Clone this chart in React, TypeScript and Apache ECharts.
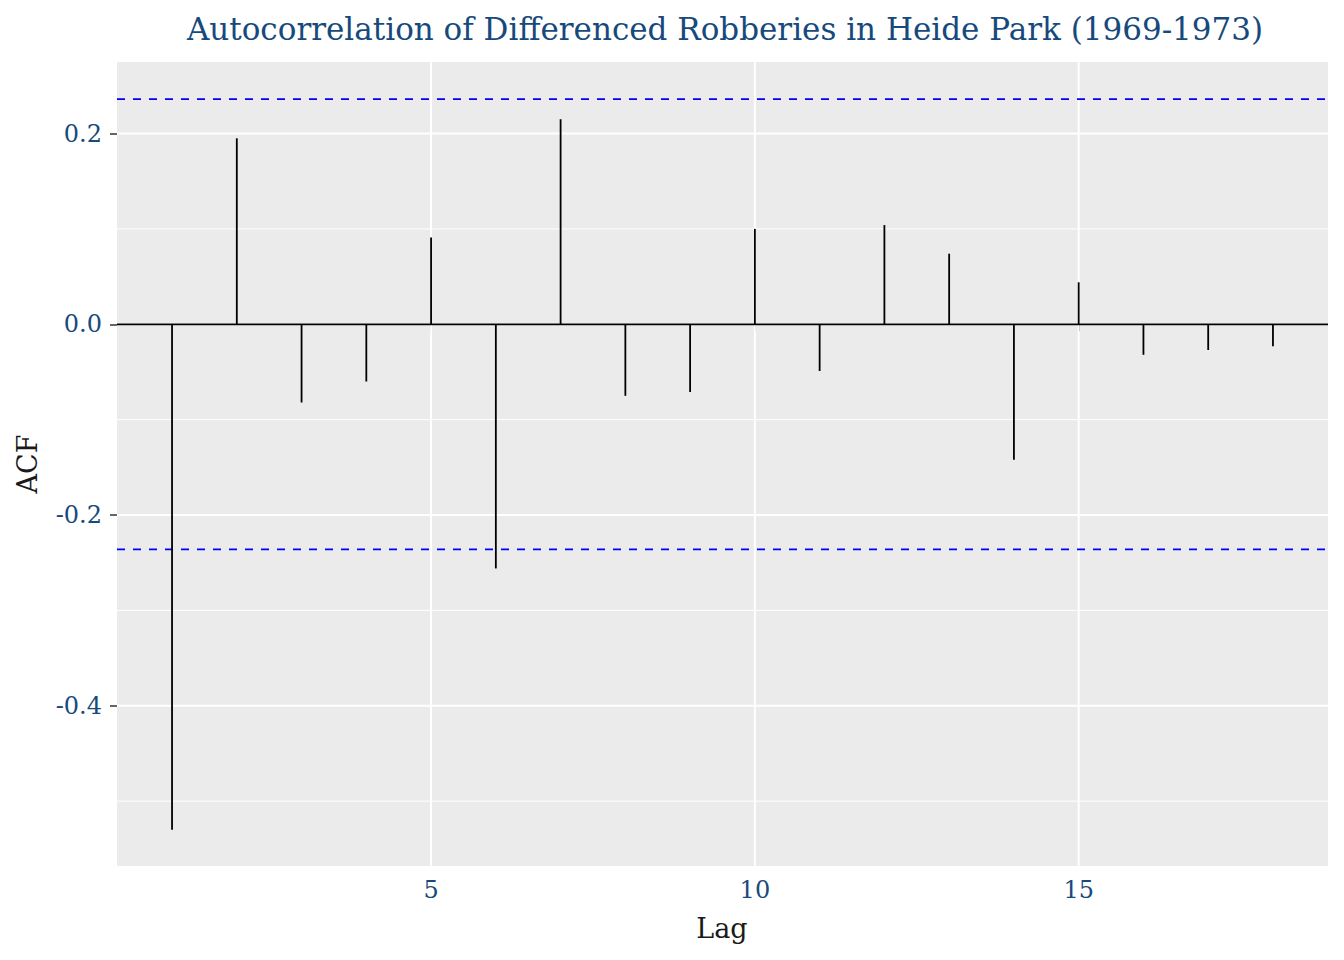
import React, { useEffect, useRef } from "react";
import * as echarts from "echarts";

const lags = [1, 2, 3, 4, 5, 6, 7, 8, 9, 10, 11, 12, 13, 14, 15, 16, 17, 18];
const acfValues = [
  -0.53, 0.195, -0.082, -0.06, 0.091, -0.256, 0.215, -0.075, -0.071, 0.1,
  -0.049, 0.104, 0.074, -0.142, 0.044, -0.032, -0.027, -0.023,
];
const ciBound = 0.236;
const xTicks = [5, 10, 15];
const yTicks = [-0.4, -0.2, 0, 0.2];
const yMinor = [-0.5, -0.3, -0.1, 0.1];

const FONT = "DejaVu Serif";
const BLUE = "#174a7c";

// rows: [orientation (0 = horizontal, 1 = vertical), value, kind]
const gridRows = [
  ...yMinor.map((v) => [0, v, 0]),
  ...yTicks.map((v) => [0, v, 1]),
  ...xTicks.map((v) => [1, v, 1]),
];
const refRows = [
  [0, ciBound, 2],
  [0, -ciBound, 2],
  [0, 0, 3],
];

function hvLine(params: any, api: any) {
  const orient = api.value(0);
  const v = api.value(1);
  const kind = api.value(2);
  const cs = params.coordSys;
  let shape;
  if (orient === 0) {
    const y = api.coord([1, v])[1];
    shape = { x1: cs.x, y1: y, x2: cs.x + cs.width, y2: y };
  } else {
    const x = api.coord([v, 0])[0];
    shape = { x1: x, y1: cs.y, x2: x, y2: cs.y + cs.height };
  }
  let style: any;
  if (kind === 0) style = { stroke: "#ffffff", lineWidth: 1 };
  else if (kind === 1) style = { stroke: "#ffffff", lineWidth: 2 };
  else if (kind === 2) style = { stroke: "#0000ff", lineWidth: 1.8, lineDash: [8, 8] };
  else style = { stroke: "#000000", lineWidth: 1.8 };
  return { type: "line", shape, style };
}

export default function App() {
  const ref = useRef<HTMLDivElement>(null);
  useEffect(() => {
    if (!ref.current) return;
    const chart = echarts.init(ref.current, undefined, { renderer: "svg" });
    chart.setOption({
      animation: false,
      backgroundColor: "#ffffff",
      title: {
        text: "Autocorrelation of Differenced Robberies in Heide Park (1969-1973)",
        left: 720,
        top: 8,
        textAlign: "center",
        textStyle: { fontFamily: FONT, fontSize: 31, fontWeight: "normal", color: BLUE },
      },
      grid: {
        left: 117,
        right: 16,
        top: 62,
        bottom: 94,
        show: true,
        backgroundColor: "#ebebeb",
        borderWidth: 0,
      },
      xAxis: {
        type: "value",
        min: 0.15,
        max: 18.85,
        splitLine: { show: false },
        axisLine: { show: false },
        axisTick: {
          show: true,
          customValues: xTicks,
          length: 7,
          lineStyle: { color: "#333333", width: 1.5 },
        },
        axisLabel: {
          customValues: xTicks,
          fontFamily: FONT,
          fontSize: 24,
          color: BLUE,
          margin: 12,
        },
      },
      yAxis: {
        type: "value",
        min: -0.568,
        max: 0.275,
        splitLine: { show: false },
        axisLine: { show: false },
        axisTick: {
          show: true,
          customValues: yTicks,
          length: 7,
          lineStyle: { color: "#333333", width: 1.5 },
        },
        axisLabel: {
          customValues: yTicks,
          formatter: (v: number) => v.toFixed(1),
          fontFamily: FONT,
          fontSize: 24,
          color: BLUE,
          margin: 15,
        },
      },
      graphic: [
        {
          type: "text",
          x: 722,
          y: 928,
          style: {
            text: "Lag",
            fontFamily: FONT,
            fontSize: 27,
            fill: "#1a1a1a",
            textAlign: "center",
            textVerticalAlign: "middle",
          },
        },
        {
          type: "text",
          x: 27,
          y: 464,
          rotation: Math.PI / 2,
          style: {
            text: "ACF",
            fontFamily: FONT,
            fontSize: 27,
            fill: "#1a1a1a",
            textAlign: "center",
            textVerticalAlign: "middle",
          },
        },
      ],
      series: [
        {
          type: "custom",
          z: 1,
          silent: true,
          data: gridRows,
          renderItem: hvLine,
        },
        {
          type: "custom",
          z: 2,
          silent: true,
          data: refRows,
          renderItem: hvLine,
        },
        {
          type: "custom",
          z: 3,
          data: lags.map((l, i) => [l, acfValues[i]]),
          encode: { x: 0, y: 1 },
          renderItem: (params: any, api: any) => {
            const x = api.value(0);
            const y = api.value(1);
            const p0 = api.coord([x, 0]);
            const p1 = api.coord([x, y]);
            return {
              type: "line",
              shape: { x1: p0[0], y1: p0[1], x2: p1[0], y2: p1[1] },
              style: { stroke: "#000000", lineWidth: 1.8 },
            };
          },
        },
      ],
    });
    return () => chart.dispose();
  }, []);
  return (
    <div
      ref={ref}
      style={{ position: "absolute", left: 0, top: 0, width: 1344, height: 960 }}
    />
  );
}
